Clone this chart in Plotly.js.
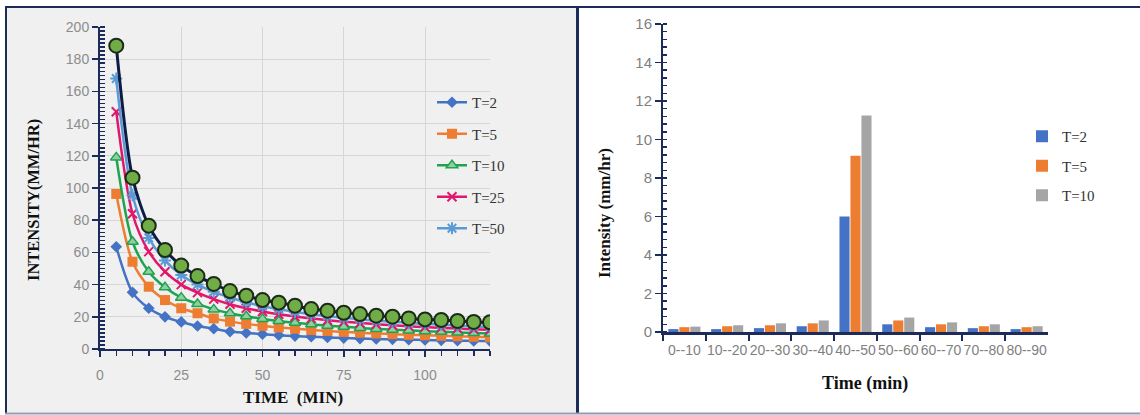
<!DOCTYPE html>
<html>
<head>
<meta charset="utf-8">
<script src="https://cdn.plot.ly/plotly-3.0.1.min.js"></script>
<style>html,body{margin:0;padding:0;background:#fff;}#chart{width:1140px;height:415px;}</style>
</head>
<body>
<div id="chart"></div>
<script>
// ---- Left chart: IDF curves ----
const durations = [5,10,15,20,25,30,35,40,45,50,55,60,65,70,75,80,85,90,95,100,105,110,115,120];
const T2  = [63.5,35.2,25.3,20.0,16.8,14.3,12.6,10.8,10.0,9.2,8.6,8.0,7.6,7.2,6.8,6.5,6.2,6.0,5.8,5.6,5.4,5.2,5.0,4.9];
const T5  = [96.3,54.2,38.7,30.4,25.3,22.2,19.0,17.0,15.6,14.4,13.4,12.6,11.8,11.2,10.6,10.1,9.6,9.2,8.8,8.5,8.2,7.9,7.6,7.3];
const T10 = [119,66.6,48.0,38.3,31.9,28.0,24.6,22.2,20.3,18.7,17.4,16.3,15.3,14.5,13.8,13.1,12.5,12.0,11.5,11.1,10.7,10.3,9.9,9.6];
const T25 = [147.4,84,60.5,48,40,35,31,27.8,25.3,23.3,21.6,20.2,19.0,17.9,17.0,16.2,15.4,14.8,14.2,13.6,13.1,12.7,12.2,11.9];
const T50 = [168,95.5,69,55,46,40,35.5,32,29,26.6,24.7,23,21.6,20.4,19.4,18.4,17.6,16.9,16.2,15.6,15.0,14.5,14.0,13.6];
const T100 = [188.4,106.4,76.6,61.5,51.8,45.3,40.4,36.0,33.1,30.4,28.8,26.9,24.8,23.8,22.5,21.7,20.7,20.1,19.0,18.4,18.0,17.4,16.8,16.6];
const idfNames = ["T=2","T=5","T=10","T=25","T=50"];

// ---- Right chart: hyetograph ----
const intervals = ["0--10","10--20","20--30","30--40","40--50","50--60","60--70","70--80","80--90"];
const hyeto2  = [0.15,0.15,0.2,0.3,6.0,0.4,0.25,0.2,0.15];
const hyeto5  = [0.25,0.3,0.35,0.45,9.15,0.6,0.4,0.3,0.25];
const hyeto10 = [0.28,0.35,0.45,0.6,11.25,0.75,0.5,0.4,0.3];
const hyetoNames = ["T=2","T=5","T=10"];

const W = 1140, H = 415;
const px = v => v / W;
const py = v => 1 - v / H;
const navy = "#1c2b5a";
const grayTxt = "#7f7f7f";
const serif = "Liberation Serif, Times New Roman, serif";
const sans = "Liberation Sans, Arial, sans-serif";

function lineTrace(y, name, color, marker, grp) {
  return {x: durations, y: y, name: name, type: "scatter", mode: "lines+markers",
    line: {color: color, width: 2.5, shape: "spline", smoothing: 0.8},
    marker: marker, legendgroup: grp, xaxis: "x", yaxis: "y", legend: "legend"};
}

const traces = [
  lineTrace(T2, idfNames[0], "#4472c4", {symbol: "diamond", size: 9, color: "#4472c4"}, "g1"),
  lineTrace(T5, idfNames[1], "#ed7d31", {symbol: "square", size: 10, color: "#ed7d31"}, "g2"),
  lineTrace(T10, idfNames[2], "#1fa351", {symbol: "triangle-up", size: 10, color: "#8fd19e", line: {color: "#1fa351", width: 1.5}}, "g3"),
  lineTrace(T25, idfNames[3], "#e0176a", {symbol: "x-thin-open", size: 9, color: "#e0176a", line: {color: "#e0176a", width: 2}}, "g4"),
  lineTrace(T50, idfNames[4], "#5b9bd5", {symbol: "asterisk-open", size: 10, color: "#5b9bd5", line: {color: "#5b9bd5", width: 2}}, "g5"),
  {x: durations, y: T100, name: "T=100", type: "scatter", mode: "lines+markers", showlegend: false,
   line: {color: "#0c1c44", width: 3, shape: "spline", smoothing: 0.8},
   marker: {symbol: "circle", size: 14, color: "#70ad47", line: {color: "#1b2b18", width: 2}},
   xaxis: "x", yaxis: "y"},
  {x: intervals, y: hyeto2, name: hyetoNames[0], type: "bar", marker: {color: "#4472c4"}, xaxis: "x2", yaxis: "y2", legend: "legend2", legendgroup: "h1"},
  {x: intervals, y: hyeto5, name: hyetoNames[1], type: "bar", marker: {color: "#ed7d31"}, xaxis: "x2", yaxis: "y2", legend: "legend2", legendgroup: "h2"},
  {x: intervals, y: hyeto10, name: hyetoNames[2], type: "bar", marker: {color: "#a5a5a5"}, xaxis: "x2", yaxis: "y2", legend: "legend2", legendgroup: "h3"}
];

const layout = {
  width: W, height: H,
  margin: {l: 0, r: 0, t: 0, b: 0},
  paper_bgcolor: "#ffffff",
  plot_bgcolor: "rgba(0,0,0,0)",
  barmode: "group", bargap: 0.23, bargroupgap: 0.08,
  xaxis: {domain: [px(100), px(490)], range: [0, 120], anchor: "y",
    tickvals: [0,25,50,75,100], ticktext: ["0","25","50","75","100"],
    ticks: "outside", ticklen: 6, tickwidth: 1.5, tickcolor: navy,
    minor: {dtick: 5, tick0: 0, ticks: "outside", ticklen: 5, tickcolor: navy, showgrid: false},
    showline: true, linecolor: navy, linewidth: 2,
    showgrid: true, gridcolor: "#d6d6d6", gridwidth: 1, zeroline: false,
    tickfont: {family: sans, size: 14, color: "#8c8c8c"}, ticklabelstandoff: 6},
  yaxis: {domain: [py(349), py(27)], range: [0, 200], anchor: "x",
    dtick: 20, ticks: "outside", ticklen: 6, tickwidth: 1.5, tickcolor: navy,
    minor: {dtick: 2.5, ticks: "inside", ticklen: 5, tickcolor: navy, showgrid: false},
    showline: true, linecolor: navy, linewidth: 2,
    showgrid: true, gridcolor: "#d6d6d6", gridwidth: 1, zeroline: false,
    tickfont: {family: sans, size: 14, color: "#8c8c8c"}},
  xaxis2: {domain: [px(663), px(1048)], range: [-0.5, 8.5], anchor: "y2", type: "category",
    tickson: "boundaries", ticks: "outside", ticklen: 6, tickwidth: 2, tickcolor: navy,
    showline: true, linecolor: navy, linewidth: 2.5, showgrid: false, tickangle: 0,
    tickfont: {family: sans, size: 14, color: grayTxt}, ticklabelstandoff: 4},
  yaxis2: {domain: [py(332), py(24)], range: [0, 16], anchor: "x2",
    dtick: 2, ticks: "outside", ticklen: 6, tickwidth: 1.5, tickcolor: navy,
    minor: {dtick: 0.4, ticks: "inside", ticklen: 4, tickcolor: navy, showgrid: false},
    showline: true, linecolor: navy, linewidth: 2, showgrid: false, zeroline: false,
    tickfont: {family: sans, size: 15, color: grayTxt}},
  legend: {x: px(432), y: py(86), xanchor: "left", yanchor: "top", bgcolor: "rgba(0,0,0,0)",
    font: {family: serif, size: 15, color: "#333"}, tracegroupgap: 9, itemwidth: 30},
  legend2: {x: px(1022), y: py(120), xanchor: "left", yanchor: "top", bgcolor: "rgba(0,0,0,0)",
    font: {family: serif, size: 15, color: "#333"}, tracegroupgap: 7, itemwidth: 30},
  shapes: [
    {type: "rect", xref: "paper", yref: "paper", x0: px(6), x1: px(576), y0: py(412), y1: py(8), fillcolor: "#f0f0f0", line: {width: 0}, layer: "below"},
    {type: "line", xref: "paper", yref: "paper", x0: px(5), x1: 1, y0: py(7), y1: py(7), line: {color: navy, width: 2}},
    {type: "line", xref: "paper", yref: "paper", x0: px(6), x1: px(6), y0: py(413), y1: py(7), line: {color: navy, width: 2}},
    {type: "line", xref: "paper", yref: "paper", x0: px(577.5), x1: px(577.5), y0: py(413), y1: py(7), line: {color: navy, width: 3}},
    {type: "line", xref: "paper", yref: "paper", x0: px(5), x1: 1, y0: py(413.5), y1: py(413.5), line: {color: "#8d9cb8", width: 2}}
  ],
  annotations: [
    {text: "<b>INTENSITY(MM/HR)</b>", xref: "paper", yref: "paper", x: px(33), y: py(200), textangle: -90, showarrow: false,
     font: {family: serif, size: 16.5, color: "#111"}, xanchor: "center", yanchor: "middle"},
    {text: "<b>TIME  (MIN)</b>", xref: "paper", yref: "paper", x: px(293), y: py(397), showarrow: false,
     font: {family: serif, size: 17, color: "#111"}, xanchor: "center", yanchor: "middle"},
    {text: "<b>Intensity (mm/hr)</b>", xref: "paper", yref: "paper", x: px(605), y: py(213), textangle: -90, showarrow: false,
     font: {family: serif, size: 17, color: "#111"}, xanchor: "center", yanchor: "middle"},
    {text: "<b>Time (min)</b>", xref: "paper", yref: "paper", x: px(865), y: py(383), showarrow: false,
     font: {family: serif, size: 18, color: "#111"}, xanchor: "center", yanchor: "middle"}
  ]
};

Plotly.newPlot("chart", traces, layout, {displayModeBar: false, staticPlot: true});
</script>
</body>
</html>
